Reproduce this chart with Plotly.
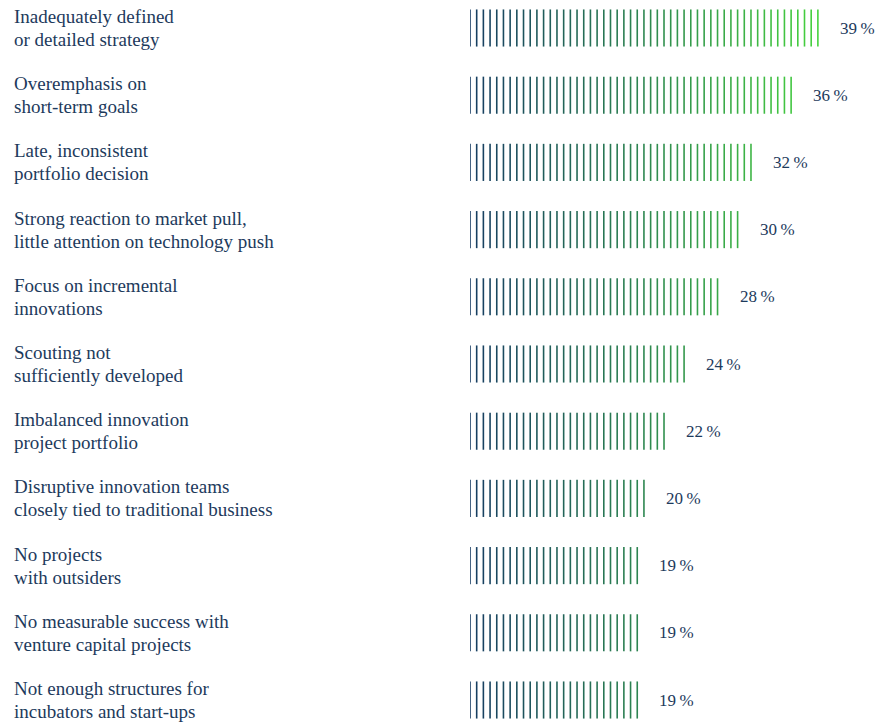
import plotly.graph_objects as go

categories = [
    "Inadequately defined<br>or detailed strategy",
    "Overemphasis on<br>short-term goals",
    "Late, inconsistent<br>portfolio decision",
    "Strong reaction to market pull,<br>little attention on technology push",
    "Focus on incremental<br>innovations",
    "Scouting not<br>sufficiently developed",
    "Imbalanced innovation<br>project portfolio",
    "Disruptive innovation teams<br>closely tied to traditional business",
    "No projects<br>with outsiders",
    "No measurable success with<br>venture capital projects",
    "Not enough structures for<br>incubators and start-ups",
]
values = [39, 36, 32, 30, 28, 24, 22, 20, 19, 19, 19]

W, H = 892, 722
px_per_pct = 8.92
bar_left = 470
step = 0.75  # percent between stripes
row_px = 67.2
first_row = 28

start_rgb = (22, 60, 98)
end_rgb = (70, 210, 62)
vmax = max(values)


def col(x):
    t = max(0.0, min(1.0, x / vmax))
    r, g, b = (round(s + (e - s) * t) for s, e in zip(start_rgb, end_rgb))
    return f"rgb({r},{g},{b})"


xs, ys, cs = [], [], []
for i, v in enumerate(values):
    n = int(v / step + 1e-9)
    for k in range(n + 1):
        x = k * step
        xs.append(x)
        ys.append(i)
        cs.append(col(x))

fig = go.Figure()
fig.add_trace(go.Scatter(
    x=xs, y=ys, mode="markers", hoverinfo="skip",
    marker=dict(symbol="line-ns", size=26.5, color=cs,
                line=dict(color=cs, width=1.6)),
))

text_color = "#1d3a5c"
font_family = "Liberation Serif"

annotations = []
for i, (c, v) in enumerate(zip(categories, values)):
    lines = c.split("<br>")
    for j, ln in enumerate(lines):
        annotations.append(dict(
            x=12 / W, xref="paper", y=i, yref="y", text=ln, showarrow=False,
            xanchor="left", yanchor="middle", align="left",
            yshift=11.5 - 23 * j,
            font=dict(family=font_family, size=19, color=text_color),
        ))
    n = int(v / step + 1e-9)
    annotations.append(dict(
        x=n * step, xref="x", y=i, yref="y", text=f"{v}\u2009%", showarrow=False,
        xanchor="left", yanchor="middle", xshift=20,
        font=dict(family=font_family, size=17, color=text_color),
    ))

dom0 = bar_left / W
xrange_max = (W - bar_left) / px_per_pct
y_top = -first_row / row_px
y_bot = (H - first_row) / row_px

fig.update_layout(
    width=W, height=H,
    margin=dict(l=0, r=0, t=0, b=0),
    paper_bgcolor="white", plot_bgcolor="white",
    showlegend=False,
    xaxis=dict(domain=[dom0, 1], range=[0, xrange_max], visible=False),
    yaxis=dict(range=[y_bot, y_top], visible=False),
    annotations=annotations,
)

fig.write_html("out.html")
